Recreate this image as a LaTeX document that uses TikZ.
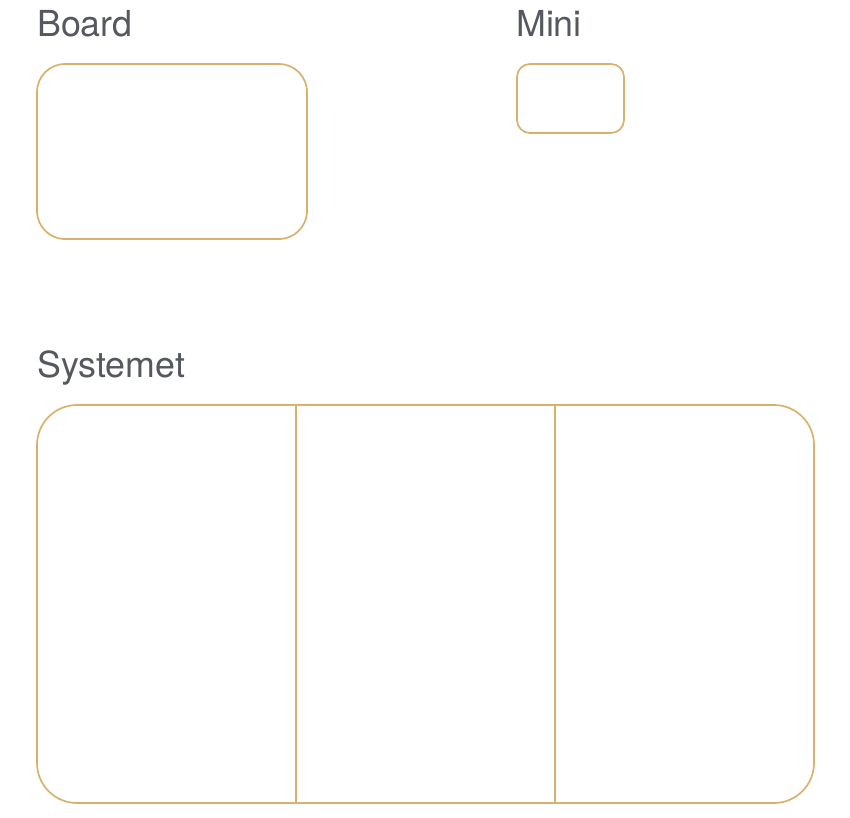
\documentclass[tikz,border=0pt]{standalone}
\usepackage{fontspec}
\setmainfont{TeX Gyre Heros}
\usetikzlibrary{positioning}
\definecolor{boxgold}{RGB}{216,178,108}
\definecolor{labelgray}{RGB}{85,88,94}
\tikzset{
	boxframe/.style={draw=boxgold,line width=1.7pt,rectangle,inner sep=0pt,outer sep=0pt},
	boxlabel/.style={anchor=base west,inner sep=0pt,text=labelgray,font=\fontsize{35.8}{40}\selectfont}
}

\begin{document}
\begin{tikzpicture}[x=1pt,y=-1pt]
				%%%%% START %%%%%
				\def\lw{1.7pt}
				\def\xsplitone{296}
				\def\xsplittwo{555}
				
				\useasboundingbox (0,0) rectangle (850,817);
				
				% board
				\node[boxframe,rounded corners=28pt,minimum width=270pt,minimum height=175pt,anchor=north west] (board) at (37,64) {};
				\node[boxlabel] (boardlbl) at (37,36) {Board};
				
				% mini
				\node[boxframe,rounded corners=13pt,minimum width=107pt,minimum height=69pt,anchor=north west] (mini) at (517,64) {};
				\node[boxlabel] (minilbl) at (516,36) {Mini};
				
				% systemet
				\node[boxframe,rounded corners=40pt,minimum width=777pt,minimum height=398pt,anchor=north west] (sys) at (37,405) {};
				\node[boxlabel] (syslbl) at (37,377) {Systemet};
				
				\coordinate (splitonetop) at (\xsplitone,405);
				\coordinate (splitonebot) at (\xsplitone,803);
				\coordinate (splittwotop) at (\xsplittwo,405);
				\coordinate (splittwobot) at (\xsplittwo,803);
				\draw[boxgold,line width=\lw] (splitonetop) -- (splitonebot);
				\draw[boxgold,line width=\lw] (splittwotop) -- (splittwobot);
				%%%%% END %%%%%
\end{tikzpicture}
\end{document}
